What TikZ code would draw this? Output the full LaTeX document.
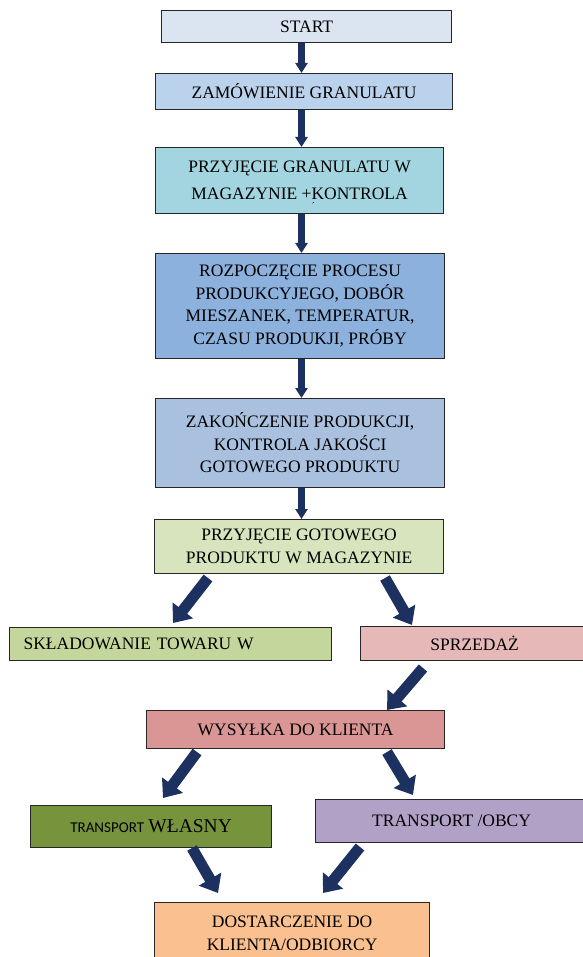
\documentclass[tikz,border=0pt]{standalone}
\usepackage{fontspec}
\setmainfont{Liberation Serif}
\newfontfamily\carlitofont{Carlito}
\usetikzlibrary{arrows.meta}
\definecolor{navy}{HTML}{1C3160}
\definecolor{cStart}{HTML}{DBE5F1}
\definecolor{cZam}{HTML}{BBD2EC}
\definecolor{cGran}{HTML}{A3D5E0}
\definecolor{cRoz}{HTML}{8CB1DC}
\definecolor{cZak}{HTML}{A9C1DF}
\definecolor{cGot}{HTML}{D7E4BD}
\definecolor{cSkl}{HTML}{C3D69B}
\definecolor{cSprz}{HTML}{E6B9B8}
\definecolor{cWys}{HTML}{D99694}
\definecolor{cWl}{HTML}{77933C}
\definecolor{cObcy}{HTML}{B2A1C7}
\definecolor{cDost}{HTML}{FAC090}
\tikzset{
  box/.style={draw=black!85, line width=1.2pt, anchor=north west, inner sep=0pt,
    align=center, font=\fontsize{17.5}{23}\selectfont},
  varrow/.style={draw=navy, line width=6.5pt, -{Triangle[width=12pt,length=10pt]}},
  darrow/.style={draw=navy, line width=11pt, -{Triangle[width=25pt,length=16pt]}}
}
\begin{document}
\begin{tikzpicture}[x=1pt,y=-1pt]
\useasboundingbox (0,0) rectangle (582,957);
% boxes
\node[box, minimum width=290, minimum height=32, fill=cStart] (start) at (161,10) {START};
\node[box, minimum width=297, minimum height=36, fill=cZam] (zam) at (155,73) {ZAMÓWIENIE GRANULATU};
\node[box, minimum width=288, minimum height=66, fill=cGran, font=\fontsize{17.5}{27}\selectfont] (gran) at (155,147)
  {PRZYJĘCIE GRANULATU W\\MAGAZYNIE +\smash{\rlap{\raisebox{-10pt}{\fontsize{10}{10}\selectfont ´}}}KONTROLA};
\node[box, minimum width=289, minimum height=105, fill=cRoz, font=\fontsize{17.5}{22.7}\selectfont] (roz) at (155,253)
  {ROZPOCZĘCIE PROCESU\\PRODUKCYJEGO, DOBÓR\\MIESZANEK, TEMPERATUR,\\CZASU PRODUKJI, PRÓBY};
\node[box, minimum width=289, minimum height=89, fill=cZak, font=\fontsize{17.5}{22.5}\selectfont] (zak) at (155,398)
  {ZAKOŃCZENIE PRODUKCJI,\\KONTROLA JAKOŚCI\\GOTOWEGO PRODUKTU};
\node[box, minimum width=289, minimum height=54, fill=cGot] (got) at (154,519)
  {PRZYJĘCIE GOTOWEGO\\PRODUKTU W MAGAZYNIE};
\node[box, minimum width=322, minimum height=33, fill=cSkl, text width=294, inner xsep=14, align=left] (skl) at (9,627)
  {SKŁADOWANIE TOWARU W};
\node[box, minimum width=228, minimum height=34, fill=cSprz] (sprz) at (360,626) {SPRZEDAŻ};
\node[box, minimum width=298, minimum height=38, fill=cWys] (wys) at (146,710) {WYSYŁKA DO KLIENTA};
\node[box, minimum width=241, minimum height=42, fill=cWl] (wl) at (30,805)
  {{\carlitofont\fontsize{15}{18}\selectfont TRANSPORT} {\fontsize{19.5}{22}\selectfont WŁASNY}};
\node[box, minimum width=272, minimum height=43, fill=cObcy] (obcy) at (315,799) {TRANSPORT /OBCY};
\node[box, minimum width=275, minimum height=62, fill=cDost] (dost) at (154,902)
  {DOSTARCZENIE DO\\KLIENTA/ODBIORCY};
% vertical arrows
\coordinate (ax) at (301.5,0);
\draw[varrow] (start.south -| ax) -- (zam.north -| ax);
\draw[varrow] (zam.south -| ax) -- (gran.north -| ax);
\draw[varrow] (gran.south -| ax) -- (roz.north -| ax);
\draw[varrow] (roz.south -| ax) -- (zak.north -| ax);
\draw[varrow] (zak.south -| ax) -- (got.north -| ax);
% diagonal arrows
\coordinate (g1) at (208,578); \coordinate (s1) at (173,623);
\coordinate (g2) at (385,578); \coordinate (s2) at (412,625);
\coordinate (p1) at (423,668); \coordinate (w0) at (387,710);
\coordinate (w1) at (197,752); \coordinate (t1) at (163,798);
\coordinate (w2) at (387,752); \coordinate (t2) at (413,795);
\coordinate (l1) at (192,848); \coordinate (d1) at (218,893);
\coordinate (o1) at (360,847); \coordinate (d2) at (323,893);
\draw[darrow] (g1) -- (s1);
\draw[darrow] (g2) -- (s2);
\draw[darrow] (p1) -- (w0);
\draw[darrow] (w1) -- (t1);
\draw[darrow] (w2) -- (t2);
\draw[darrow] (l1) -- (d1);
\draw[darrow] (o1) -- (d2);
\end{tikzpicture}
\end{document}
